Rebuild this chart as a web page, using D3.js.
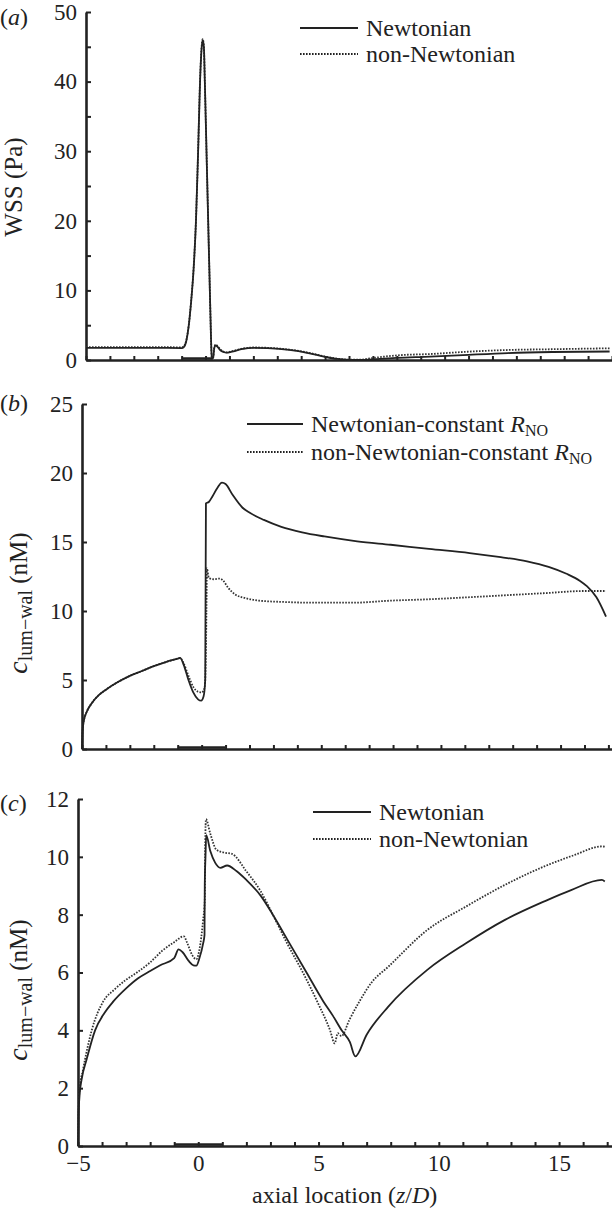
<!DOCTYPE html>
<html>
<head>
<meta charset="utf-8">
<script src="https://cdn.jsdelivr.net/npm/d3@7"></script>
<style>
  body { margin: 0; background: #fff; }
  svg text { font-family: "Liberation Serif", "Times New Roman", Times, "DejaVu Serif", serif !important; fill: #222; }
</style>
</head>
<body>
<script>
// ---- data: [axial location z/D, value] ----
const wssNewtonian = [[-5,1.75],[-2,1.75],[-1.0,1.72],[-0.9,1.9],[-0.8,2.8],[-0.7,5],[-0.6,8.5],[-0.5,13],[-0.4,20],[-0.31,30],[-0.23,40],[-0.17,44.5],[-0.12,46],[-0.07,45],[-0.03,40],[0.04,30],[0.11,20],[0.18,10],[0.23,3],[0.26,0.2],[0.32,0.3],[0.36,1.6],[0.42,2.1],[0.5,1.9],[0.62,1.4],[0.75,1.15],[0.88,1.05],[1.1,1.2],[1.5,1.55],[2.0,1.75],[2.6,1.7],[3.5,1.45],[4.3,1.0],[5.0,0.45],[5.5,0.15],[6.0,0.02],[6.5,0.0],[7.0,0.1],[8.0,0.3],[9.4,0.48],[11,0.75],[12.65,1.0],[14.5,1.15],[16.9,1.22]];
const wssNonNewtonian = [[-5,1.85],[-2,1.85],[-1.0,1.82],[-0.9,2.0],[-0.8,2.9],[-0.7,5.1],[-0.6,8.6],[-0.5,13.2],[-0.4,20.2],[-0.31,30.2],[-0.23,40.2],[-0.17,44.7],[-0.12,46.1],[-0.07,45],[-0.03,40],[0.04,30],[0.11,20],[0.18,10],[0.23,3],[0.26,0.3],[0.32,0.4],[0.36,1.7],[0.42,2.2],[0.5,2.0],[0.62,1.5],[0.75,1.2],[0.88,1.1],[1.1,1.25],[1.5,1.6],[2.0,1.8],[2.6,1.75],[3.5,1.5],[4.3,1.05],[5.0,0.5],[5.5,0.2],[6.0,0.05],[6.5,0.05],[6.9,0.24],[8.15,0.7],[9.4,0.86],[11,1.2],[12.65,1.44],[14.5,1.55],[16.9,1.68]];

const cbNewtonian = [[-5,0],[-4.98,1.2],[-4.93,2.0],[-4.8,2.7],[-4.6,3.3],[-4.3,3.9],[-4,4.3],[-3.5,4.85],[-3,5.3],[-2.5,5.65],[-2,6.0],[-1.5,6.3],[-1.0,6.55],[-0.9,6.6],[-0.75,6.1],[-0.55,5.0],[-0.35,4.1],[-0.15,3.6],[-0.02,3.5],[0.08,3.8],[0.15,5.0],[0.18,17.8],[0.3,17.9],[0.45,18.3],[0.65,18.9],[0.85,19.3],[1.0,19.2],[1.3,18.4],[1.7,17.5],[2.03,17.1],[2.6,16.6],[3.33,16.1],[4.2,15.7],[5.13,15.4],[6.5,15.05],[7.9,14.8],[9.5,14.5],[11.2,14.2],[12.5,13.9],[13.6,13.6],[14.5,13.2],[15.25,12.7],[15.8,12.2],[16.1,11.8],[16.5,11.0],[16.9,9.6]];
const cbNonNewtonian = [[-5,0],[-4.98,1.2],[-4.93,2.0],[-4.8,2.7],[-4.6,3.3],[-4.3,3.9],[-4,4.3],[-3.5,4.85],[-3,5.3],[-2.5,5.65],[-2,6.0],[-1.5,6.3],[-1.0,6.55],[-0.9,6.6],[-0.75,6.2],[-0.55,5.3],[-0.35,4.5],[-0.15,4.15],[0.0,4.1],[0.12,4.4],[0.17,6],[0.2,10],[0.22,13.1],[0.3,12.4],[0.5,12.3],[0.75,12.35],[0.9,12.2],[1.1,11.7],[1.4,11.2],[1.8,10.95],[2.4,10.75],[3.5,10.65],[4.6,10.6],[6.3,10.6],[7.9,10.75],[9.5,10.85],[11.2,11.0],[12.8,11.15],[14.4,11.3],[16.0,11.45],[16.9,11.45]];

const ccNewtonian = [[-5,0],[-4.98,1.0],[-4.93,1.8],[-4.85,2.3],[-4.64,3.0],[-4.29,4.0],[-3.9,4.6],[-3.53,5.0],[-3,5.45],[-2.5,5.8],[-2,6.05],[-1.58,6.25],[-1.0,6.5],[-0.82,6.8],[-0.65,6.7],[-0.4,6.4],[-0.2,6.25],[-0.08,6.24],[0.05,6.5],[0.2,7.0],[0.26,7.3],[0.27,9.0],[0.3,10.0],[0.33,10.75],[0.5,10.2],[0.7,9.8],[0.92,9.62],[1.2,9.7],[1.6,9.5],[2.0,9.2],[2.6,8.65],[3.1,8.0],[3.8,7.0],[4.5,6.0],[5.2,5.0],[5.6,4.5],[5.96,4.0],[6.3,3.6],[6.53,3.1],[7.0,3.85],[7.9,4.82],[9.52,6.09],[11.13,7.01],[12.75,7.82],[14.36,8.45],[15.5,8.85],[16.78,9.2],[16.9,9.15]];
const ccNonNewtonian = [[-5,0],[-4.98,1.2],[-4.93,2.0],[-4.8,2.6],[-4.43,4.0],[-3.95,5.0],[-3.5,5.4],[-3,5.75],[-2.55,6.0],[-2,6.35],[-1.5,6.75],[-1,7.05],[-0.6,7.25],[-0.45,7.0],[-0.25,6.6],[-0.08,6.46],[0.05,6.8],[0.2,7.8],[0.27,8.5],[0.29,10.5],[0.32,11.3],[0.5,10.8],[0.75,10.25],[1.05,10.15],[1.4,10.1],[2.0,9.5],[2.6,8.8],[3.1,8.0],[3.7,7.0],[4.35,6.0],[5.0,4.9],[5.48,4.0],[5.67,3.55],[5.8,3.9],[5.95,3.8],[6.28,4.36],[6.7,5.0],[7.2,5.65],[7.9,6.2],[9.52,7.47],[11.13,8.28],[12.75,9.03],[14.36,9.66],[15.6,10.05],[16.78,10.36],[16.9,10.35]];

// tick values
const xMinorTicks = d3.range(-5, 18, 1);
const xLabelTicks = [-5, 0, 5, 10, 15];
const wssTicks = [0, 10, 20, 30, 40, 50];
const wssMinorTicks = [5, 15, 25, 35, 45];
const cbTicks = [0, 5, 10, 15, 20, 25];
const ccTicks = [0, 2, 4, 6, 8, 10, 12];
const stenosis = [-1, 1];

const W = 612, H = 1209;
const FONT = '"Liberation Serif", "Times New Roman", Times, serif';
const svg = d3.select('body').append('svg').attr('width', W).attr('height', H)
    .attr('font-family', FONT);

const line = (x, y) => d3.line().curve(d3.curveMonotoneX).x(d => x(d[0])).y(d => y(d[1]));

function panel(opt) {
    const x = d3.scaleLinear().domain([-5, opt.xEnd]).range([opt.left, W]);
    const y = d3.scaleLinear().domain([0, opt.yMax]).range([opt.bottom, opt.top]);
    const g = svg.append('g');

    // x axis, ticks pointing up
    const xAxis = d3.axisBottom(x).tickValues(xMinorTicks).tickSizeInner(-4).tickSizeOuter(0).tickFormat('');
    const xg = g.append('g').attr('transform', `translate(0,${opt.bottom})`).call(xAxis);
    xg.select('.domain').attr('stroke', '#222').attr('stroke-width', 2.6);
    xg.selectAll('.tick line').attr('stroke', '#222').attr('stroke-width', 2);
    // thick bit over the stenosis
    g.append('line').attr('x1', x(stenosis[0])).attr('x2', x(opt.stenEnd))
        .attr('y1', opt.bottom - 1.5).attr('y2', opt.bottom - 1.5)
        .attr('stroke', '#222').attr('stroke-width', 2.5);

    if (opt.xLabels) {
        const xl = g.append('g').attr('transform', `translate(0,${opt.bottom})`)
            .call(d3.axisBottom(x).tickValues(xLabelTicks).tickSize(0).tickPadding(9));
        xl.attr('font-family', FONT).attr('font-size', 23);
        xl.select('.domain').remove();
        xl.selectAll('text').attr('fill', '#222');
    }

    // y axis, ticks pointing right
    const yAxis = d3.axisLeft(y).tickValues(opt.yTicks).tickSizeInner(-5).tickSizeOuter(0).tickPadding(9);
    const yg = g.append('g').attr('transform', `translate(${opt.left},0)`).call(yAxis);
    yg.attr('font-family', FONT).attr('font-size', 23);
    yg.select('.domain').attr('stroke', '#222').attr('stroke-width', 2.6);
    yg.selectAll('.tick line').attr('stroke', '#222').attr('stroke-width', 2);
    yg.selectAll('text').attr('fill', '#222');
    if (opt.yMinor) {
        const ym = g.append('g').attr('transform', `translate(${opt.left},0)`)
            .call(d3.axisLeft(y).tickValues(opt.yMinor).tickSizeInner(-5).tickSizeOuter(0).tickFormat(''));
        ym.select('.domain').remove();
        ym.selectAll('.tick line').attr('stroke', '#222').attr('stroke-width', 2);
    }

    // curves
    g.append('path').datum(opt.nonNewt).attr('d', line(x, y)).attr('fill', 'none')
        .attr('stroke', '#333').attr('stroke-width', 1.8).attr('stroke-dasharray', '1.6,1.4');
    g.append('path').datum(opt.newt).attr('d', line(x, y)).attr('fill', 'none')
        .attr('stroke', '#222').attr('stroke-width', 1.8);

    // panel letter
    const lt = g.append('text').attr('x', 0).attr('y', opt.letterY).attr('font-size', 24);
    lt.append('tspan').text('(');
    lt.append('tspan').attr('font-style', 'italic').text(opt.letter);
    lt.append('tspan').text(')');

    // y label
    const yl = g.append('text').attr('transform', `translate(${opt.labelX},${opt.labelY}) rotate(-90)`)
        .attr('text-anchor', 'middle').attr('font-size', 25);
    if (opt.conc) {
        yl.append('tspan').attr('font-style', 'italic').attr('font-size', 28).text('c');
        yl.append('tspan').attr('font-size', 20).attr('dy', 5).text('lum\u2212wal');
        yl.append('tspan').attr('dy', -5).text(' (nM)');
    } else {
        yl.text('WSS (Pa)');
    }

    // legend
    opt.legend.forEach((lg, i) => {
        const ly = opt.legY + i * opt.legGap;
        g.append('line').attr('x1', opt.legX).attr('x2', opt.legX + opt.legLen)
            .attr('y1', ly).attr('y2', ly).attr('stroke', '#222').attr('stroke-width', i ? 1.8 : 2)
            .attr('stroke-dasharray', i ? '1.6,1.4' : null);
        const t = g.append('text').attr('x', opt.legX + opt.legLen + 8).attr('y', ly + 8).attr('font-size', 24);
        t.append('tspan').text(lg);
        if (opt.rno) {
            t.append('tspan').attr('font-style', 'italic').text(' R');
            t.append('tspan').attr('font-size', 16).attr('dy', 4).text('NO');
        }
    });
    return x;
}

panel({letter: 'a', letterY: 25, left: 86, xEnd: 17.0, top: 12, bottom: 360, yMax: 50, yTicks: wssTicks, yMinor: wssMinorTicks,
    newt: wssNewtonian, nonNewt: wssNonNewtonian, stenEnd: 0.3,
    labelX: 22, labelY: 187, conc: false,
    legend: ['Newtonian', 'non-Newtonian'], legX: 300, legY: 28, legGap: 26, legLen: 58, rno: false});

panel({letter: 'b', letterY: 411, left: 82, xEnd: 17.15, top: 404, bottom: 749, yMax: 25, yTicks: cbTicks,
    newt: cbNewtonian, nonNewt: cbNonNewtonian, stenEnd: 1,
    labelX: 27, labelY: 603, conc: true,
    legend: ['Newtonian-constant', 'non-Newtonian-constant'], legX: 247, legY: 424, legGap: 28, legLen: 56, rno: true});

panel({letter: 'c', letterY: 811, left: 78, xEnd: 17.2, top: 799, bottom: 1146, yMax: 12, yTicks: ccTicks,
    newt: ccNewtonian, nonNewt: ccNonNewtonian, stenEnd: 1, xLabels: true,
    labelX: 27, labelY: 990, conc: true,
    legend: ['Newtonian', 'non-Newtonian'], legX: 313, legY: 812, legGap: 27, legLen: 58, rno: false});

// x axis title
const xt = svg.append('text').attr('x', 252).attr('y', 1203).attr('font-size', 24);
xt.append('tspan').text('axial location (');
xt.append('tspan').attr('font-style', 'italic').text('z');
xt.append('tspan').text('/');
xt.append('tspan').attr('font-style', 'italic').text('D');
xt.append('tspan').text(')');
</script>
</body>
</html>
